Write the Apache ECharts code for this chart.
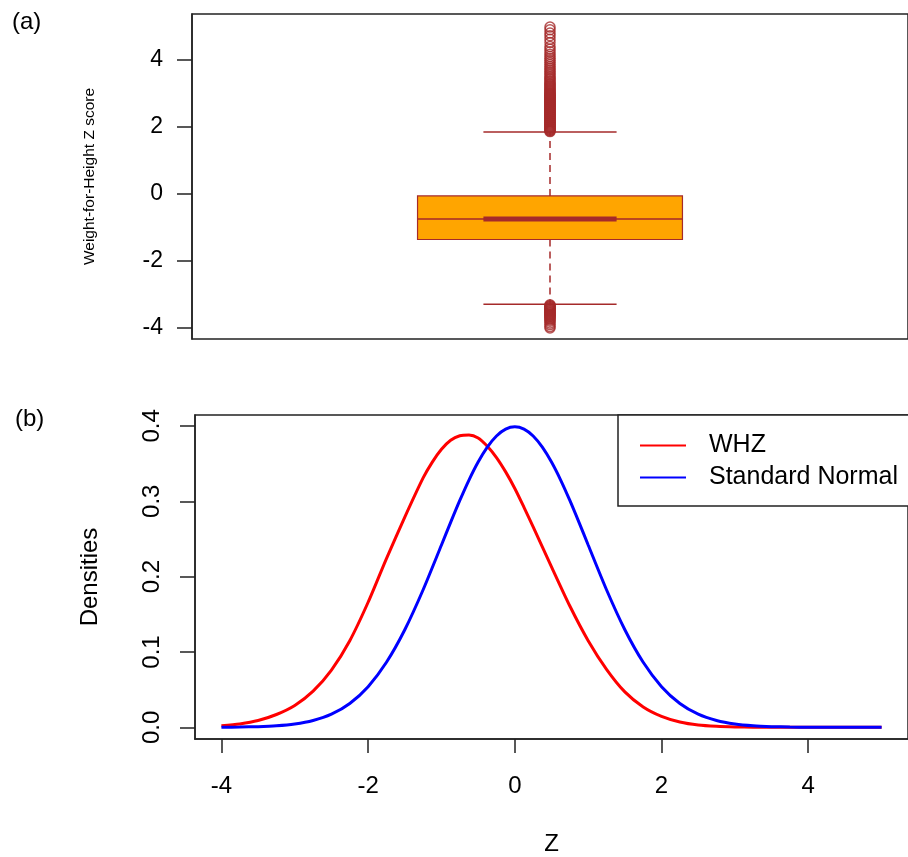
<!DOCTYPE html>
<html>
<head>
<meta charset="utf-8">
<script src="https://cdn.jsdelivr.net/npm/echarts@6/dist/echarts.min.js"></script>
<style>
  html, body { margin: 0; padding: 0; background: #fff; }
  #chart { width: 908px; height: 857px; }
</style>
</head>
<body>
<div id="chart"></div>
<script>
// panel (a): boxplot of WHZ
const boxStats = [1, -3.29, -1.36, -0.75, -0.06, 1.85]; // x, lower whisker, q1, median, q3, upper whisker
const upperOutliers = [1.86, 1.88, 1.9, 1.92, 1.94, 1.96, 1.98, 2.0, 2.02, 2.04, 2.06, 2.08, 2.1, 2.12,
  2.14, 2.16, 2.18, 2.2, 2.22, 2.24, 2.26, 2.28, 2.3, 2.32, 2.34, 2.36, 2.38, 2.4, 2.42, 2.44, 2.46, 2.48,
  2.5, 2.52, 2.54, 2.56, 2.58, 2.6, 2.62, 2.64, 2.66, 2.68, 2.7, 2.72, 2.74, 2.76, 2.78, 2.8, 2.82, 2.84,
  2.86, 2.88, 2.9, 2.92, 2.94, 2.96, 2.98, 3.0, 3.03, 3.06, 3.09, 3.12, 3.15, 3.18, 3.21, 3.24, 3.27,
  3.3, 3.34, 3.38, 3.42, 3.46, 3.5, 3.55, 3.6, 3.65, 3.7, 3.75, 3.8, 3.86, 3.92, 3.98, 4.04, 4.1, 4.17,
  4.24, 4.32, 4.4, 4.52, 4.62, 4.72, 4.8, 4.9, 4.98];
const lowerOutliers = [-3.31, -3.33, -3.35, -3.37, -3.39, -3.41, -3.43, -3.45, -3.47, -3.49, -3.51,
  -3.53, -3.55, -3.57, -3.59, -3.61, -3.63, -3.65, -3.67, -3.7, -3.73, -3.76, -3.8, -3.85, -3.9, -3.96,
  -4.0];
const boxTicks = [-4, -2, 0, 2, 4];

// panel (b): densities (finer steps near the peaks)
const whzZ = [-4, -3.75, -3.5, -3.25, -3, -2.75, -2.5, -2.25, -2, -1.75, -1.5, -1.25,
  -1.125, -1, -0.875, -0.75, -0.625, -0.5, -0.375, -0.25, -0.125, 0, 0.125, 0.25,
  0.5, 0.75, 1, 1.25, 1.5, 1.75, 2, 2.25, 2.5, 2.75, 3, 3.25, 3.5, 3.75, 4, 4.5, 5];
const whzDensity = [0.002, 0.0045, 0.009, 0.017, 0.029, 0.048, 0.076, 0.115, 0.166, 0.224, 0.279, 0.331,
  0.352, 0.369, 0.381, 0.387, 0.388, 0.384, 0.373, 0.358, 0.339, 0.317, 0.292, 0.266,
  0.213, 0.161, 0.115, 0.077, 0.047, 0.027, 0.0145, 0.007, 0.003, 0.0013, 0.0005, 0.0002, 0.0001, 0, 0, 0, 0];
const normZ = [-4, -3.75, -3.5, -3.25, -3, -2.75, -2.5, -2.25, -2, -1.75, -1.5, -1.25, -1,
  -0.875, -0.75, -0.625, -0.5, -0.375, -0.25, -0.125, 0, 0.125, 0.25, 0.375, 0.5, 0.625, 0.75, 0.875,
  1, 1.25, 1.5, 1.75, 2, 2.25, 2.5, 2.75, 3, 3.25, 3.5, 3.75, 4, 4.25, 4.5, 4.75, 5];
const normDensity = [0.0001, 0.0004, 0.0009, 0.0020, 0.0044, 0.0091, 0.0175, 0.0317, 0.0540, 0.0863,
  0.1295, 0.1826, 0.2420,
  0.2720, 0.3011, 0.3282, 0.3521, 0.3719, 0.3867, 0.3958, 0.3989, 0.3958, 0.3867, 0.3719, 0.3521,
  0.3282, 0.3011, 0.2720,
  0.2420, 0.1826, 0.1295, 0.0863, 0.0540, 0.0317, 0.0175, 0.0091, 0.0044, 0.0020, 0.0009, 0.0004,
  0.0001, 0, 0, 0, 0];
const zTicks = [-4, -2, 0, 2, 4];
const densTicks = [0, 0.1, 0.2, 0.3, 0.4];

const font = "'Liberation Sans', Arial, sans-serif";
const ink = '#222';
const brown = '#A52A2A';
const boxHalf = 0.185;
const capHalf = 0.093;

const chart = echarts.init(document.getElementById('chart'), null, { renderer: 'canvas' });

const axisCommon = {
  axisLine: { show: true, onZero: false, lineStyle: { color: ink, width: 1.5 } },
  axisTick: { show: true, inside: false, length: 15, lineStyle: { color: ink, width: 1.5 } },
  splitLine: { show: false }
};

chart.setOption({
  animation: false,
  backgroundColor: '#fff',
  title: [
    { text: '(a)', left: 12, top: 10, padding: 0, textStyle: { fontFamily: font, fontSize: 24, fontWeight: 'normal', color: '#000' } },
    { text: '(b)', left: 15, top: 407, padding: 0, textStyle: { fontFamily: font, fontSize: 24, fontWeight: 'normal', color: '#000' } }
  ],
  grid: [
    { left: 192, top: 14, width: 717, height: 325, show: true, borderColor: ink, borderWidth: 1.5, backgroundColor: 'transparent' },
    { left: 195, top: 415, width: 716, height: 325, show: true, borderColor: ink, borderWidth: 1.5, backgroundColor: 'transparent' }
  ],
  legend: {
    data: ['WHZ', 'Standard Normal'],
    orient: 'vertical',
    left: 618,
    top: 415,
    padding: [18, 40, 16, 22],
    itemWidth: 46,
    itemHeight: 2,
    itemGap: 7,
    icon: 'rect',
    borderColor: ink,
    borderWidth: 1.5,
    borderRadius: 0,
    backgroundColor: '#fff',
    selectedMode: false,
    textStyle: { fontFamily: font, fontSize: 25, color: '#000', padding: [0, 0, 0, 18] }
  },
  xAxis: [
    { type: 'value', gridIndex: 0, min: 0.5, max: 1.5, show: false },
    Object.assign({}, axisCommon, {
      type: 'value', gridIndex: 1, min: -4.36, max: 5.36,
      name: 'Z', nameLocation: 'middle', nameGap: 93,
      nameTextStyle: { fontFamily: font, fontSize: 24, color: '#000' },
      axisTick: Object.assign({}, axisCommon.axisTick, { length: 14, customValues: zTicks }),
      axisLabel: { customValues: zTicks, margin: 35, fontFamily: font, fontSize: 24, color: '#000' }
    })
  ],
  yAxis: [
    Object.assign({}, axisCommon, {
      type: 'value', gridIndex: 0, min: -4.33, max: 5.37,
      name: 'Weight-for-Height Z score', nameLocation: 'middle', nameGap: 94,
      nameTextStyle: { fontFamily: font, fontSize: 15.5, color: '#000' },
      axisTick: Object.assign({}, axisCommon.axisTick, { customValues: boxTicks }),
      axisLabel: { customValues: boxTicks, margin: 29, fontFamily: font, fontSize: 23, color: '#000' }
    }),
    Object.assign({}, axisCommon, {
      type: 'value', gridIndex: 1, min: -0.0155, max: 0.4145,
      name: 'Densities', nameLocation: 'middle', nameGap: 93,
      nameTextStyle: { fontFamily: font, fontSize: 24, color: '#000' },
      axisTick: Object.assign({}, axisCommon.axisTick, { customValues: densTicks }),
      axisLabel: {
        customValues: densTicks, margin: 31, rotate: 90, fontFamily: font, fontSize: 24, color: '#000',
        formatter: v => v.toFixed(1)
      }
    })
  ],
  series: [
    {
      type: 'custom',
      xAxisIndex: 0,
      yAxisIndex: 0,
      silent: true,
      encode: { x: 0, y: [1, 2, 3, 4, 5] },
      data: [boxStats],
      renderItem: function (params, api) {
        const x = api.value(0);
        const p = (dx, v) => api.coord([x + dx, v]);
        const lw = api.value(1), q1 = api.value(2), md = api.value(3), q3 = api.value(4), uw = api.value(5);
        const seg = (a, b, style) => ({ type: 'line', shape: { x1: a[0], y1: a[1], x2: b[0], y2: b[1] }, style: style });
        const tl = p(-boxHalf, q3), br = p(boxHalf, q1);
        const dashed = { stroke: brown, lineWidth: 1.5, lineDash: [7, 5] };
        const solid = { stroke: brown, lineWidth: 1.5 };
        return {
          type: 'group',
          children: [
            seg(p(0, q3), p(0, uw), dashed),
            seg(p(0, q1), p(0, lw), dashed),
            seg(p(-capHalf, uw), p(capHalf, uw), solid),
            seg(p(-capHalf, lw), p(capHalf, lw), solid),
            { type: 'rect', shape: { x: tl[0], y: tl[1], width: br[0] - tl[0], height: br[1] - tl[1] },
              style: { fill: '#FFA500', stroke: brown, lineWidth: 1.2 } },
            seg(p(-boxHalf, md), p(boxHalf, md), solid),
            seg(p(-capHalf, md), p(capHalf, md), { stroke: brown, lineWidth: 5 })
          ]
        };
      }
    },
    {
      type: 'scatter',
      xAxisIndex: 0,
      yAxisIndex: 0,
      silent: true,
      symbol: 'circle',
      symbolSize: 10,
      itemStyle: { color: 'rgba(0,0,0,0)', borderColor: brown, borderWidth: 1.5 },
      data: upperOutliers.concat(lowerOutliers).map(v => [1, v])
    },
    {
      name: 'WHZ',
      type: 'line',
      xAxisIndex: 1,
      yAxisIndex: 1,
      smooth: 0.25,
      showSymbol: false,
      silent: true,
      color: '#FF0000',
      lineStyle: { color: '#FF0000', width: 3 },
      data: whzZ.map((z, i) => [z, whzDensity[i]])
    },
    {
      name: 'Standard Normal',
      type: 'line',
      xAxisIndex: 1,
      yAxisIndex: 1,
      smooth: 0.25,
      showSymbol: false,
      silent: true,
      color: '#0000FF',
      lineStyle: { color: '#0000FF', width: 3 },
      data: normZ.map((z, i) => [z, normDensity[i]])
    }
  ]
});
</script>
</body>
</html>
